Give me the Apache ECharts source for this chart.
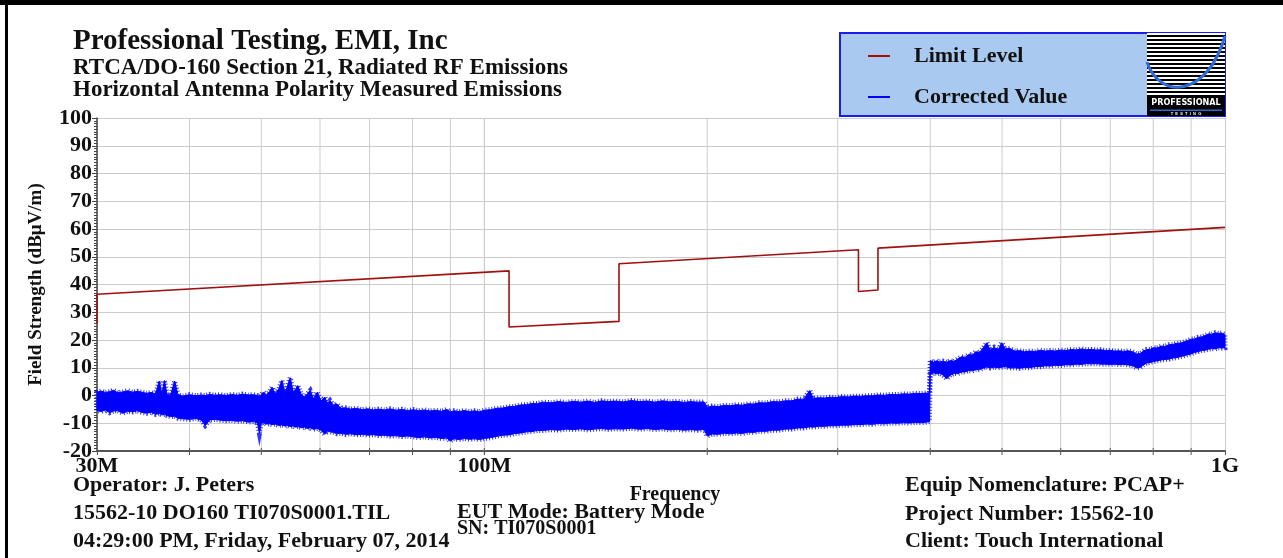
<!DOCTYPE html>
<html>
<head>
<meta charset="utf-8">
<script src="https://cdn.jsdelivr.net/npm/echarts/dist/echarts.min.js"></script>
<style>html,body{margin:0;padding:0;background:#fff;}#c{width:1283px;height:558px;}</style>
</head>
<body>
<div id="c"></div>
<script>
// ---- Data (frequency in MHz, level in dBµV/m) ----
const limitFreq  = [30, 30, 108, 108, 152, 152, 320, 320, 340, 340, 1000];
const limitLevel = [26, 36.5, 44.9, 24.7, 26.7, 47.5, 52.5, 37.5, 38.0, 53.1, 60.6];

// Corrected Value trace: upper / lower edge of the measured band
const noiseFreq = [
  30,30.4,30.8,31.2,31.6,32,32.5,33,33.5,34,
  34.5,35,35.5,36,36.4,36.7,37,37.3,37.7,38.2,
  38.6,39.2,40,40.8,41.5,42,42.6,43.3,44,44.8,
  45.6,46.4,47.2,48,48.8,49.4,49.7,50,50.3,50.8,
  51.3,51.7,52.2,52.8,53.3,53.8,54.2,54.7,55.2,55.6,
  56,56.6,57.2,57.7,58.2,58.8,59.5,60.2,60.9,61.4,
  61.9,62.6,63.2,64,65,66,67.2,68.4,69.6,70.8,
  72,73.3,74.6,76,77.4,78.8,80.2,81.6,83,84.5,
  86,87.5,89,90,91,92.5,94,95.5,97,98.5,
  100,102,104,106,108,110,112,114,116,118,
  120,123,126,129,132,135,138,141,144,147,
  150,154,158,162,166,170,174,178,182,186,
  190,194,198,200,203,207,211,215,219,223,
  227,231,235,240,245,250,255,260,265,270,
  275,278,283,288,293,298,304,310,316,322,
  328,334,340,347,354,361,368,375,382,389,
  395,399,400,404,408,412,416,421,426,431,
  436,441,446,451,456,461,466,471,477,482,
  488,494,499.5,505,512,520,528,536,545,554,
  563,572,581,590,600,610,620,630,640,650,
  660,670,680,690,700,710,720,730,740,750,
  760,768,776,784,792,800,810,820,830,840,
  850,860,870,880,890,900,910,920,930,940,
  950,960,970,980,990,1000
];
const noiseHigh = [
  1.2,1.6,1.1,1.4,1.9,1.0,1.3,1.7,1.2,1.5,
  1.2,0.8,1.1,0.6,5.2,0.5,5.4,0.3,0.2,5.2,
  0.1,-0.2,0.3,-0.1,0.2,0.0,0.4,0.1,0.3,0.0,
  0.4,0.1,0.5,0.2,0.3,0.0,-0.2,0.3,1.2,0.2,
  1.4,3.0,0.6,2.4,5.4,1.0,3.2,6.4,1.4,2.2,
  3.6,0.4,-0.6,0.6,1.8,-1.2,1.2,-2.0,-0.6,-2.8,
  -1.8,-3.6,-3.0,-4.6,-4.4,-4.9,-4.6,-5.1,-4.8,-5.2,
  -4.9,-5.2,-4.8,-5.3,-5.0,-5.4,-5.1,-5.5,-5.2,-5.6,
  -5.3,-5.7,-5.0,-5.9,-5.5,-5.8,-5.4,-5.8,-5.5,-5.9,
  -5.3,-5.1,-4.6,-4.5,-4.0,-3.9,-3.4,-3.3,-2.9,-2.9,
  -2.4,-2.6,-2.2,-2.5,-2.1,-2.4,-2.0,-2.5,-1.9,-2.2,
  -2.0,-2.3,-1.8,-2.2,-2.0,-2.4,-1.9,-2.3,-2.1,-2.5,
  -2.2,-2.4,-2.3,-4.2,-3.8,-4.0,-3.5,-3.7,-3.3,-3.5,
  -3.0,-3.1,-2.6,-2.7,-2.2,-2.3,-1.9,-1.9,-1.3,-1.4,
  1.8,-1.0,-0.8,-0.9,-0.6,-0.7,-0.4,-0.5,-0.2,-0.3,
  -0.1,-0.1,0.2,0.1,0.4,0.3,0.6,0.5,0.8,0.7,
  0.9,0.8,12.6,12.0,12.5,12.1,12.4,12.0,12.6,12.3,
  13.2,14.0,13.7,14.8,14.6,15.8,15.4,17.0,19.0,16.4,
  17.4,16.4,19.0,16.8,17.0,16.0,16.2,15.8,16.0,15.9,
  16.3,16.0,16.2,16.0,16.4,16.2,16.6,16.4,16.8,16.5,
  16.6,16.4,16.5,16.2,16.3,16.0,16.1,15.9,16.1,15.8,
  15.0,15.1,16.0,16.6,16.6,17.2,17.1,17.8,17.7,18.3,
  18.4,18.8,18.9,19.3,19.8,20.3,20.4,21.0,21.1,21.6,
  22.2,22.1,22.6,22.4,22.5,22.0
];
const noiseLow = [
  -5.4,-5.8,-5.2,-6.2,-5.6,-5.5,-6.4,-5.7,-5.9,-5.5,
  -6.1,-6.4,-6.0,-6.8,-6.5,-7.0,-6.8,-7.3,-7.6,-7.5,
  -8.2,-8.4,-8.6,-8.3,-8.9,-10.8,-8.8,-8.6,-8.9,-9.1,
  -9.0,-9.3,-9.1,-9.6,-9.4,-9.9,-13.6,-10.0,-9.8,-10.3,
  -10.2,-10.5,-10.3,-10.8,-10.6,-11.0,-10.8,-11.2,-11.0,-11.4,
  -11.2,-11.6,-11.4,-11.9,-11.6,-12.2,-11.9,-12.5,-14.0,-12.8,
  -13.1,-13.3,-13.8,-13.6,-14.0,-13.8,-14.2,-14.0,-14.3,-14.1,
  -14.4,-14.3,-14.6,-14.5,-14.8,-14.6,-14.9,-15.2,-14.9,-15.3,
  -15.1,-15.5,-15.3,-16.4,-15.6,-15.9,-15.5,-15.8,-15.6,-15.9,
  -15.5,-15.2,-14.7,-14.3,-14.2,-13.7,-13.5,-13.1,-13.0,-12.6,
  -12.6,-12.3,-12.5,-12.1,-12.3,-12.0,-12.4,-12.1,-11.9,-12.2,
  -12.0,-12.1,-11.8,-12.2,-11.9,-12.3,-12.0,-12.4,-12.2,-12.5,
  -12.3,-12.5,-12.2,-14.6,-13.9,-14.0,-13.6,-13.8,-13.5,-13.7,
  -13.2,-13.3,-12.9,-12.9,-12.5,-12.5,-12.1,-12.1,-11.7,-11.7,
  -11.3,-11.4,-11.1,-11.1,-10.9,-10.9,-10.7,-10.7,-10.5,-10.5,
  -10.3,-10.4,-10.1,-10.2,-9.9,-10.0,-9.8,-9.9,-9.7,-9.8,
  -9.6,-9.4,7.8,8.2,7.8,8.0,7.4,6.0,7.4,7.9,
  7.9,8.5,8.5,9.0,8.9,9.3,9.3,9.8,10.3,9.9,
  10.2,10.0,10.2,10.4,9.9,10.0,9.8,10.1,10.0,10.4,
  10.4,10.7,10.6,10.9,10.8,11.1,11.0,11.3,11.2,11.5,
  11.4,11.5,11.3,11.3,11.2,11.3,11.1,11.2,11.0,10.8,
  9.9,10.1,11.0,11.7,11.9,12.2,12.5,12.8,13.0,13.1,
  13.5,13.6,14.0,14.3,14.7,15.0,15.5,15.8,16.2,16.3,
  16.7,16.9,16.8,17.2,17.1,17.2
];

// Vertical grid frequencies (MHz) and axis labels
const gridFreqs = [40,50,60,70,80,90,100,200,300,400,500,600,700,800,900];
const xTickLabels = {30: '30M', 100: '100M', 1000: '1G'};
const yMin = -20, yMax = 100, yStep = 10;

const serif = '"Liberation Serif", "Times New Roman", serif';

const chart = echarts.init(document.getElementById('c'), null, {renderer: 'canvas'});

function txt(x, y, text, size, align) {
  return {
    type: 'text', z: 10,
    style: {
      x: x, y: y, text: text,
      font: 'bold ' + size + 'px ' + serif,
      fill: '#111',
      align: align || 'left', verticalAlign: 'middle',
      textAlign: align || 'left', textVerticalAlign: 'middle'
    }
  };
}

// logo stripes
const logoChildren = [
  {type: 'rect', shape: {x: 0, y: 0, width: 78, height: 62}, style: {fill: '#fff'}}
];
for (let i = 0; i < 15; i++) {
  logoChildren.push({type: 'rect', shape: {x: 0, y: 2 + i * 4, width: 78, height: 2}, style: {fill: '#000'}});
}
logoChildren.push({type: 'bezierCurve', shape: {x1: 0, y1: 29, cpx1: 12, cpy1: 66, cpx2: 60, cpy2: 66, x2: 78, y2: 3},
  style: {stroke: '#2f6bd6', lineWidth: 3, fill: null}});
logoChildren.push({type: 'rect', shape: {x: 0, y: 62, width: 78, height: 21}, style: {fill: '#000'}});
logoChildren.push({type: 'text', style: {x: 39, y: 70, text: 'PROFESSIONAL', font: 'bold 9px "DejaVu Sans Condensed", "DejaVu Sans", sans-serif',
  fill: '#fff', align: 'center', verticalAlign: 'middle', textAlign: 'center', textVerticalAlign: 'middle'}});
logoChildren.push({type: 'rect', shape: {x: 3, y: 76.5, width: 72, height: 1.5}, style: {fill: '#2f6bd6'}});
logoChildren.push({type: 'text', style: {x: 39, y: 80.5, text: 'T  E  S  T  I  N  G', font: 'bold 4px sans-serif',
  fill: '#fff', align: 'center', verticalAlign: 'middle', textAlign: 'center', textVerticalAlign: 'middle'}});

const option = {
  animation: false,
  backgroundColor: '#ffffff',
  grid: {left: 97, right: 58, top: 118, bottom: 107, containLabel: false},
  legend: {
    orient: 'vertical', left: 863, top: 39, padding: 5,
    itemWidth: 22, itemHeight: 2, itemGap: 17,
    textStyle: {fontFamily: serif, fontWeight: 'bold', fontSize: 22, color: '#111', lineHeight: 24, padding: [0, 0, 0, 19]},
    data: [
      {name: 'Limit Level', icon: 'rect', itemStyle: {color: '#a01010'}},
      {name: 'Corrected Value', icon: 'rect', itemStyle: {color: '#0000ff'}}
    ]
  },
  xAxis: {
    type: 'log', logBase: 10, min: 30, max: 1000,
    name: 'Frequency', nameLocation: 'middle', nameGap: 34,
    nameTextStyle: {fontFamily: serif, fontWeight: 'bold', fontSize: 20, color: '#111', padding: [0, 0, 0, 28]},
    axisLine: {show: true, onZero: false, lineStyle: {color: '#555', width: 2}},
    axisTick: {show: true, length: 4, lineStyle: {color: '#555'}},
    splitLine: {show: true, lineStyle: {color: '#cccccc', width: 1}},
    axisLabel: {
      margin: 4, fontFamily: serif, fontWeight: 'bold', fontSize: 22, color: '#111',
      formatter: function (v) { return xTickLabels[Math.round(v)] || ''; }
    }
  },
  yAxis: {
    type: 'value', min: yMin, max: yMax, interval: yStep,
    name: 'Field Strength (dBμV/m)', nameLocation: 'middle', nameGap: 51, nameRotate: 90,
    nameTextStyle: {fontFamily: serif, fontWeight: 'bold', fontSize: 19, color: '#111'},
    axisLine: {show: true, onZero: false, lineStyle: {color: '#444', width: 1.5}},
    axisTick: {show: true, length: 5, lineStyle: {color: '#444'}},
    minorTick: {show: true, splitNumber: 10, length: 3, lineStyle: {color: '#444'}},
    splitLine: {show: true, lineStyle: {color: '#cccccc', width: 1}},
    axisLabel: {margin: 5, fontFamily: serif, fontWeight: 'bold', fontSize: 22, color: '#111'}
  },
  series: [
    {
      name: 'grid', type: 'custom', silent: true, z: 1, clip: false,
      data: gridFreqs.map(function (f) { return [f, yMin]; }),
      renderItem: function (params, api) {
        const f = api.value(0);
        const a = api.coord([f, yMin]);
        const b = api.coord([f, yMax]);
        return {type: 'group', children: [
          {type: 'line', shape: {x1: a[0], y1: a[1], x2: b[0], y2: b[1]}, style: {stroke: '#cccccc', lineWidth: 1}},
          {type: 'line', shape: {x1: a[0], y1: a[1] - 3, x2: a[0], y2: a[1] + 4}, style: {stroke: '#555', lineWidth: 1}}
        ]};
      }
    },
    {
      name: 'Corrected Value', type: 'custom', z: 3,
      itemStyle: {color: '#0000ff'},
      data: [[noiseFreq[0], noiseLow[0]]],
      renderItem: function (params, api) {
        const pts = [];
        for (let i = 0; i < noiseFreq.length; i++) pts.push(api.coord([noiseFreq[i], noiseHigh[i]]));
        for (let i = noiseFreq.length - 1; i >= 0; i--) pts.push(api.coord([noiseFreq[i], noiseLow[i]]));
        return {type: 'group', children: [
          // fuzzy edge: fine dashed wide stroke gives a spiky noise look
          {type: 'polygon', shape: {points: pts}, style: {fill: null, stroke: 'rgba(0,0,255,0.8)', lineWidth: 5, lineDash: [1, 2]}},
          {type: 'polygon', shape: {points: pts}, style: {fill: '#0000ff', stroke: '#0000ff', lineWidth: 1}}
        ]};
      }
    },
    {
      name: 'Limit Level', type: 'line', z: 4, symbol: 'none',
      lineStyle: {color: '#a01010', width: 1.6},
      itemStyle: {color: '#a01010'},
      data: limitFreq.map(function (f, i) { return [f, limitLevel[i]]; })
    }
  ],
  graphic: [
    // page frame
    {type: 'rect', z: 20, shape: {x: 0, y: 0, width: 1283, height: 5}, style: {fill: '#000'}},
    {type: 'rect', z: 20, shape: {x: 5, y: 0, width: 3, height: 558}, style: {fill: '#000'}},
    // legend box
    {type: 'rect', z: -1, shape: {x: 840, y: 33, width: 385, height: 83}, style: {fill: '#a9c9f0', stroke: '#1c1cf0', lineWidth: 2}},
    {type: 'group', x: 1147, y: 33, z: 5, children: logoChildren},
    // titles
    txt(73, 42, 'Professional Testing, EMI, Inc', 29),
    txt(73, 68, 'RTCA/DO-160 Section 21, Radiated RF Emissions', 23),
    txt(73, 90, 'Horizontal Antenna Polarity Measured Emissions', 23),
    // footer
    txt(73, 485, 'Operator: J. Peters', 22),
    txt(73, 513, '15562-10 DO160 TI070S0001.TIL', 22),
    txt(73, 541, '04:29:00 PM, Friday, February 07, 2014', 22),
    txt(457, 512, 'EUT Mode: Battery Mode', 22),
    txt(457, 529, 'SN: TI070S0001', 20),
    txt(905, 485, 'Equip Nomenclature: PCAP+', 22),
    txt(905, 514, 'Project Number: 15562-10', 22),
    txt(905, 541, 'Client: Touch International', 22)
  ]
};
chart.setOption(option);
</script>
</body>
</html>
